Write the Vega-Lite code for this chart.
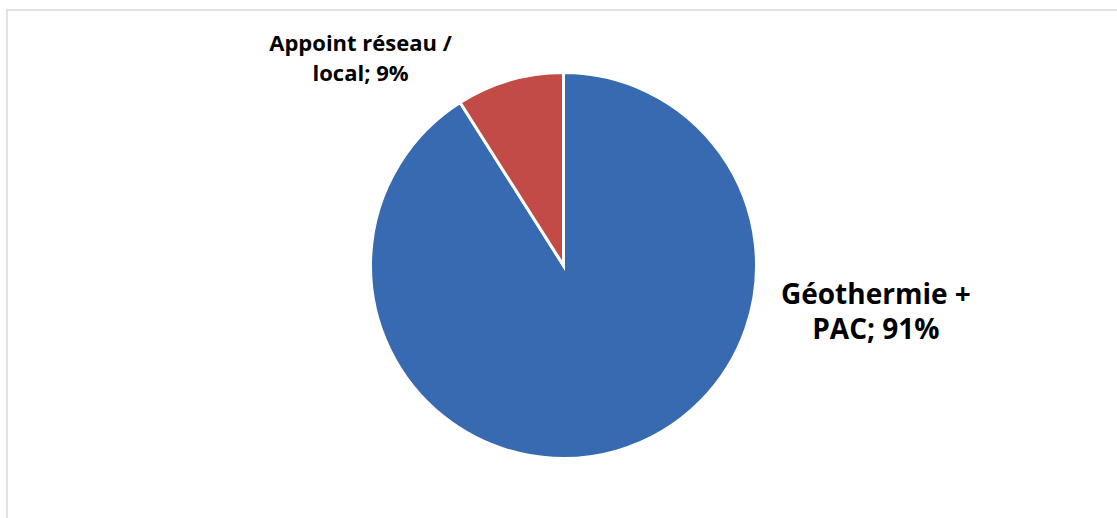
{
  "$schema": "https://vega.github.io/schema/vega-lite/v6.json",
  "width": 1117,
  "height": 518,
  "autosize": {"type": "fit", "contains": "padding"},
  "padding": {"left": 7, "top": 10, "right": -3, "bottom": -3},
  "background": "white",
  "view": {"stroke": "#d9d9d9", "strokeWidth": 1.5, "fill": "white"},
  "config": {"view": {"stroke": "#d9d9d9", "strokeWidth": 1.5}},
  "data": {
    "values": [
      {"categorie": "Géothermie + PAC", "part": 91, "label": "Géothermie +\nPAC; 91%"},
      {"categorie": "Appoint réseau / local", "part": 9, "label": "Appoint réseau /\nlocal; 9%"}
    ]
  },
  "layer": [
    {
      "mark": {"type": "arc", "outerRadius": 193, "stroke": "white", "strokeWidth": 3},
      "encoding": {
        "theta": {"field": "part", "type": "quantitative", "stack": true},
        "order": {"field": "part", "type": "quantitative", "sort": "descending"},
        "color": {
          "field": "categorie",
          "type": "nominal",
          "scale": {"domain": ["Géothermie + PAC", "Appoint réseau / local"], "range": ["#376AB1", "#C24B47"]},
          "legend": null
        }
      }
    },
    {
      "transform": [{"filter": "datum.part == 91"}],
      "mark": {"type": "text", "theta": 1.7227, "radius": 316, "dy": -17, "font": "Open Sans", "fontWeight": "bold", "fontSize": 28, "align": "center", "baseline": "middle", "lineBreak": "\n", "lineHeight": 35, "color": "black"},
      "encoding": {"text": {"field": "label", "type": "nominal"}}
    },
    {
      "transform": [{"filter": "datum.part == 9"}],
      "mark": {"type": "text", "theta": 5.506, "radius": 288, "dy": -16, "dx": -1, "font": "Open Sans", "fontWeight": "bold", "fontSize": 22, "align": "center", "baseline": "middle", "lineBreak": "\n", "lineHeight": 30, "color": "black"},
      "encoding": {"text": {"field": "label", "type": "nominal"}}
    }
  ]
}
